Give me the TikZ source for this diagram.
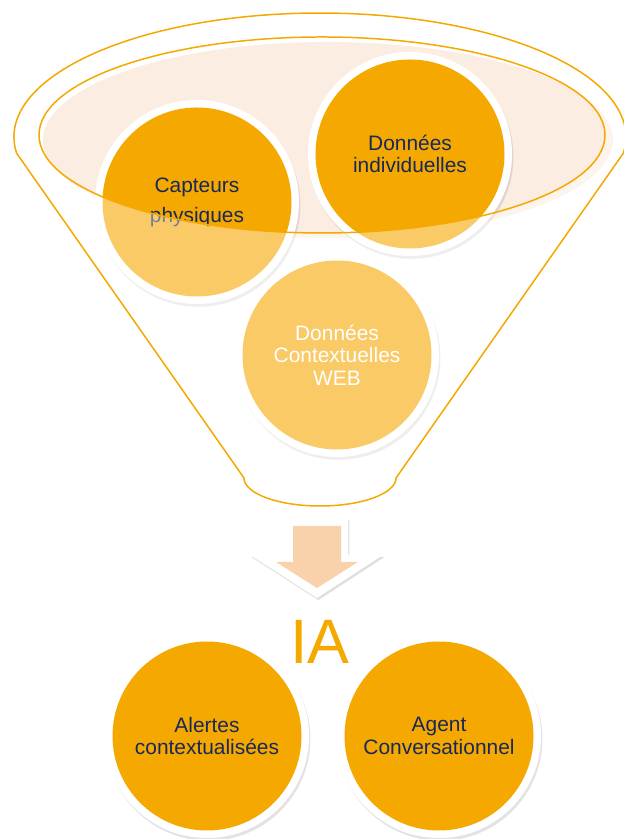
\documentclass[tikz,border=0pt]{standalone}
\usepackage{fontspec}
\setmainfont{Liberation Sans}
\usepackage{xcolor}
\usepackage{tikz}
\usetikzlibrary{shadows}

\definecolor{funnelorange}{RGB}{245,168,0}
\definecolor{textnavy}{RGB}{24,40,90}
\definecolor{rimpeach}{RGB}{252,237,226}
\definecolor{arrowpeach}{RGB}{249,209,171}

\begin{document}
\begin{tikzpicture}[
	bubble/.style={circle, minimum size=4.08cm, inner sep=0pt, fill=white,
		drop shadow={opacity=0.22, shadow xshift=0.8pt, shadow yshift=-1.6pt},
		path picture={\fill[funnelorange] (path picture bounding box.center) circle (1.89);},
		align=center, text=textnavy, font=\fontsize{11.9}{12.8}\selectfont},
	funnelline/.style={draw=funnelorange, line width=0.85pt}
]

\useasboundingbox (0,0) rectangle (12.48,16.78);

% opening of the funnel
\fill[rimpeach] (6.56,13.98) ellipse (5.70 and 1.96);

\node[bubble] (capteurs) at (3.94,12.74) {Capteurs\\[4.2pt]physiques};
\node[bubble] (individuelles) at (8.20,13.70) {Données\\individuelles};
\node[bubble, text=white] (web) at (6.74,9.68) {Données\\Contextuelles\\WEB};

% veil below the opening
\fill[white, fill opacity=0.4, even odd rule] (0,6.6) rectangle (12.48,16.78)
(6.44,14.08) ellipse (5.66 and 1.96);

\draw[funnelline] (6.44,14.08) ellipse (5.66 and 1.96);
\draw[funnelline] (0.332,13.716) arc (187.5:-7.5:6.12 and 2.48)--
(7.92,7.22) arc (0:-180:1.52 and 0.56)--cycle;

% arrow
\fill[white, drop shadow={opacity=0.25, shadow xshift=0.8pt, shadow yshift=-1.2pt}]
(5.70,6.42)--(6.96,6.42)--(6.96,5.68)--(7.66,5.68)--(6.34,4.82)--(5.00,5.68)--(5.70,5.68)--cycle;
\fill[arrowpeach]
(5.86,6.26)--(6.82,6.26)--(6.82,5.54)--(7.16,5.54)--(6.34,5.02)--(5.52,5.54)--(5.86,5.54)--cycle;

\node[text=funnelorange, font=\fontsize{35.7}{40}\selectfont] (ia) at (6.40,3.94) {IA};

\node[bubble] (alertes) at (4.14,2.06) {Alertes\\contextualisées};
\node[bubble] (agent) at (8.78,2.06) {Agent\\Conversationnel};

\end{tikzpicture}
\end{document}
